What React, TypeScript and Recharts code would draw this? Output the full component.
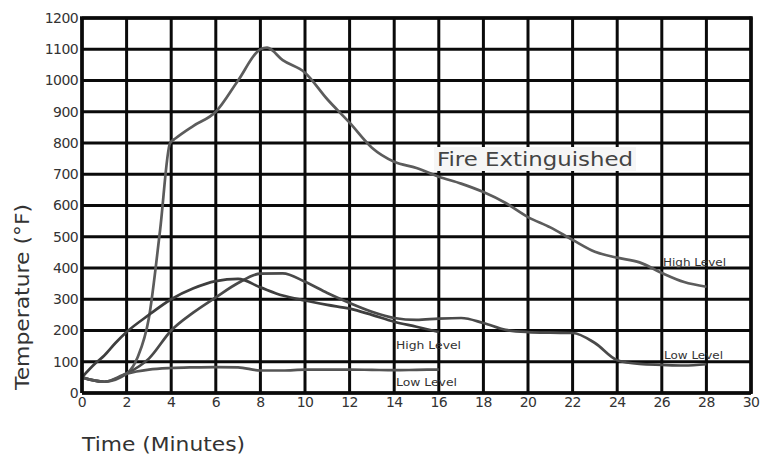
import React from 'react';
import { LineChart, Line, XAxis, YAxis, CartesianGrid } from 'recharts';

// time (minutes) ticks and temperature (°F) ticks
const xTicks = [0, 2, 4, 6, 8, 10, 12, 14, 16, 18, 20, 22, 24, 26, 28, 30];
const yTicks = [0, 100, 200, 300, 400, 500, 600, 700, 800, 900, 1000, 1100, 1200];

// 28-minute test, high level
const highLongTime = [0, 1, 2, 2.5, 3, 3.5, 3.95, 4.2, 5, 6, 7, 8, 8.3, 9, 10, 11, 12, 13, 14, 15, 16, 17, 18, 19, 20, 21, 22, 23, 24, 25, 26, 27, 28];
const highLongTemp = [50, 36, 62, 115, 240, 520, 800, 815, 855, 900, 1000, 1100, 1105, 1065, 1025, 940, 865, 785, 740, 720, 692, 670, 643, 608, 563, 530, 490, 452, 433, 418, 384, 355, 340];

// 28-minute test, low level
const lowLongTime = [0, 1, 2, 3, 4, 5, 6, 7, 8, 9, 10, 11, 12, 13, 14, 15, 16, 17, 18, 19, 20, 21, 22, 23, 24, 25, 26, 27, 28];
const lowLongTemp = [50, 36, 62, 110, 200, 258, 306, 352, 382, 383, 356, 320, 288, 260, 240, 234, 238, 240, 224, 202, 195, 193, 192, 160, 105, 93, 90, 88, 92];

// 16-minute test, high level
const highShortTime = [0, 0.6, 1, 1.5, 2, 3, 4, 5, 6, 7, 8, 9, 10, 11, 12, 13, 14, 15, 16];
const highShortTemp = [50, 95, 120, 160, 195, 250, 300, 335, 358, 365, 338, 312, 296, 282, 270, 250, 228, 212, 195];

// 16-minute test, low level
const lowShortTime = [0, 1, 2, 3, 4, 5, 6, 7, 8, 9, 10, 11, 12, 13, 14, 15, 16];
const lowShortTemp = [50, 36, 62, 75, 80, 82, 83, 82, 72, 72, 75, 75, 75, 74, 73, 74, 75];

const toPoints = (ts: number[], vs: number[]) => ts.map((t, i) => ({ t, v: vs[i] }));

const FONT = '"DejaVu Sans", sans-serif';
const tickStyle = { fontSize: 14, fill: '#333', fontFamily: FONT, letterSpacing: -0.6 };

export default function App() {
  const series = [
    { name: 'highLong', data: toPoints(highLongTime, highLongTemp), color: '#5c5c5c' },
    { name: 'lowLong', data: toPoints(lowLongTime, lowLongTemp), color: '#4a4a4a' },
    { name: 'highShort', data: toPoints(highShortTime, highShortTemp), color: '#3e3e3e' },
    { name: 'lowShort', data: toPoints(lowShortTime, lowShortTemp), color: '#555' },
  ];

  return (
    <div style={{ position: 'absolute', left: 0, top: 0, width: 762, height: 455, background: '#fff' }}>
      <LineChart width={762} height={455} margin={{ top: 18, right: 11, bottom: 32, left: 22 }}>
        <CartesianGrid stroke="#0a0a0a" strokeWidth={3} />
        <XAxis
          dataKey="t"
          type="number"
          domain={[0, 30]}
          ticks={xTicks}
          interval={0}
          height={30}
          tickSize={0}
          tickMargin={4}
          tick={tickStyle}
          axisLine={{ stroke: '#0a0a0a', strokeWidth: 3.5 }}
        />
        <YAxis
          type="number"
          domain={[0, 1200]}
          ticks={yTicks}
          interval={0}
          width={60}
          tickSize={0}
          tickMargin={4}
          tick={tickStyle}
          axisLine={{ stroke: '#0a0a0a', strokeWidth: 3.5 }}
        />
        {series.map((s) => (
          <Line
            key={s.name}
            data={s.data}
            dataKey="v"
            type="monotone"
            stroke={s.color}
            strokeWidth={2.7}
            dot={false}
            isAnimationActive={false}
          />
        ))}
      </LineChart>
      <svg
        width={762}
        height={455}
        style={{ position: 'absolute', left: 0, top: 0, pointerEvents: 'none' }}
        fontFamily={FONT}
      >
        <line x1={751} y1={16.5} x2={751} y2={394} stroke="#0a0a0a" strokeWidth={3.5} />
        <line x1={80} y1={18} x2={752.5} y2={18} stroke="#0a0a0a" strokeWidth={3.5} />
        <rect x={434} y={147} width={202} height={24} fill="#f6f6f6" />
        <text x={437} y={166} fontSize={19} fill="#444" textLength={196} lengthAdjust="spacingAndGlyphs">
          Fire Extinguished
        </text>
        <text x={663} y={266} fontSize={10.5} fill="#333" textLength={63} lengthAdjust="spacingAndGlyphs">High Level</text>
        <text x={664} y={359} fontSize={10.5} fill="#333" textLength={59} lengthAdjust="spacingAndGlyphs">Low Level</text>
        <text x={396} y={349} fontSize={10.5} fill="#333" textLength={65} lengthAdjust="spacingAndGlyphs">High Level</text>
        <text x={396} y={386} fontSize={10.5} fill="#333" textLength={61} lengthAdjust="spacingAndGlyphs">Low Level</text>
        <text
          x={22}
          y={297}
          fontSize={19}
          fill="#333"
          textAnchor="middle"
          dominantBaseline="central"
          textLength={186}
          lengthAdjust="spacingAndGlyphs"
          transform="rotate(-90 22 297)"
        >
          Temperature (°F)
        </text>
        <text x={82} y={451} fontSize={19} fill="#333" textLength={163} lengthAdjust="spacingAndGlyphs">
          Time (Minutes)
        </text>
      </svg>
    </div>
  );
}
